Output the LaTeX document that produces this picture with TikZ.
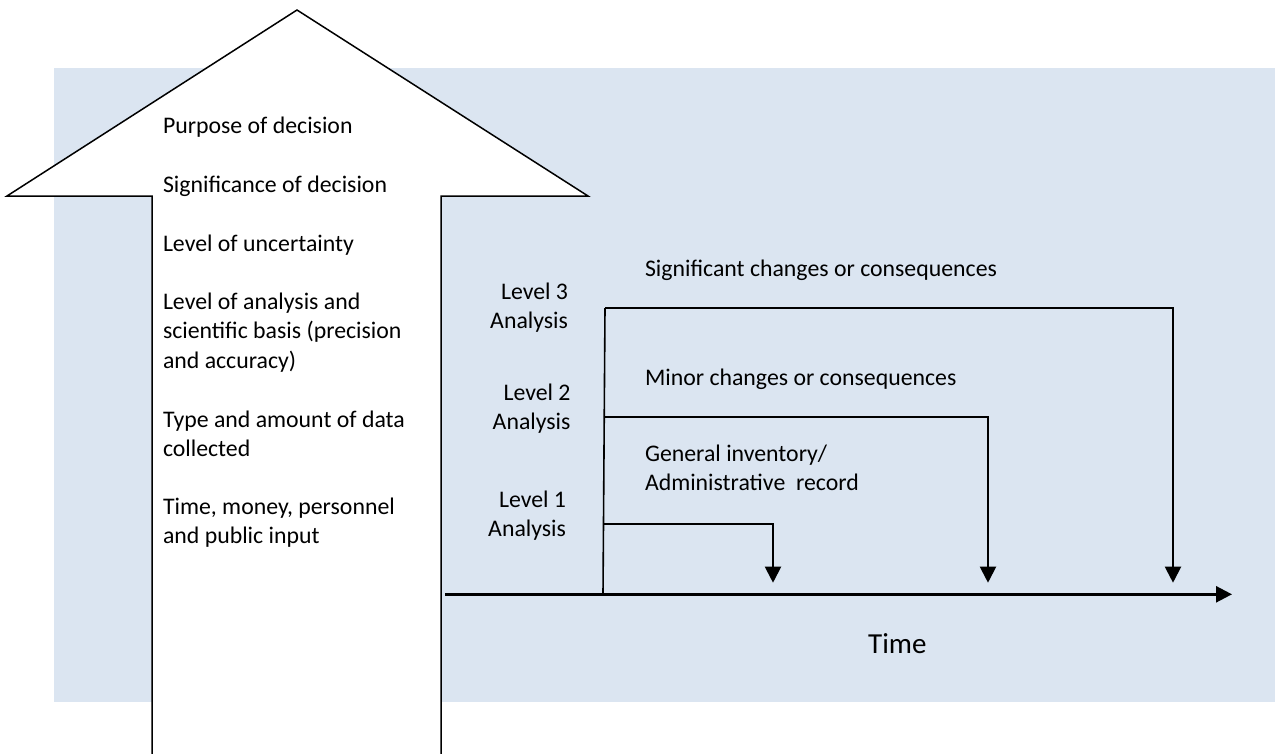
\documentclass[tikz,border=0pt]{standalone}
\usepackage{fontspec}
\setmainfont{Carlito}
\usetikzlibrary{arrows.meta}
\definecolor{bgblue}{RGB}{219,229,241}
\newcommand\mlinesl[1]{\begin{tabular}[t]{@{}l@{}}#1\end{tabular}}
\newcommand\mlinesr[1]{\begin{tabular}[t]{@{}r@{}}#1\end{tabular}}
\begin{document}
\begin{tikzpicture}[x=1pt,y=-1pt,
  txt/.style={inner sep=0pt,outer sep=0pt,font=\fontsize{23.8}{29.25}\selectfont},
  lt/.style={txt,anchor=base west},
  rt/.style={txt,anchor=base east},
  flow/.style={line width=2pt,-{Triangle[length=16pt,width=16pt]}},
  axisline/.style={line width=2.6pt,-{Triangle[length=16pt,width=16pt]}},
  stem/.style={line width=1.6pt},
  bigarrow/.style={draw=black,line width=1.5pt,line join=miter}]
\useasboundingbox (0,0) rectangle (1275,753);
\clip (0,0) rectangle (1275,753);
% background panel
\fill[bgblue] (54,68) rectangle (1275,702);
% big upward arrow
\fill[white] (297,10) -- (588,196) -- (441,196) -- (441,780) -- (152,780) -- (152,196) -- (7,196) -- cycle;
\draw[bigarrow] (441,780) -- (441,196) -- (588,196) -- (297,10) -- (7,196) -- (152,196) -- (152,780);
% left texts
\node[lt] (p1) at (163,133) {\mlinesl{Purpose of decision}};
\node[lt] (p2) at (163,192.5) {\mlinesl{Significance of decision}};
\node[lt] (p3) at (163,251) {\mlinesl{Level of uncertainty}};
\node[lt] (p4) at (163,309.5) {\mlinesl{Level of analysis and\\scientific basis (precision\\and accuracy)}};
\node[lt] (p5) at (163,427.5) {\mlinesl{Type and amount of data\\collected}};
\node[lt] (p6) at (163,514) {\mlinesl{Time, money, personnel\\and public input}};
% level labels
\node[rt] (lv3) at (568,299.3) {\mlinesr{Level 3\\Analysis}};
\node[rt] (lv2) at (570.5,400.5) {\mlinesr{Level 2\\Analysis}};
\node[rt] (lv1) at (566,507) {\mlinesr{Level 1\\Analysis}};
% consequence labels
\node[lt] (s3) at (645,276.7) {\mlinesl{Significant changes or consequences}};
\node[lt] (s2) at (645,385) {\mlinesl{Minor changes or consequences}};
\node[lt] (s1) at (645,461.7) {\mlinesl{General inventory/\\Administrative\ \ record}};
% time label
\node[inner sep=0pt,anchor=base west,font=\fontsize{29}{35}\selectfont] (time) at (868,653.3) {Time};
% coordinates
\coordinate (t0) at (445,594.3);
\coordinate (t1) at (1232,594.3);
\coordinate (v0) at (603,594.3);
\coordinate (v3) at (605,308);
\coordinate (a2) at (603.6,417);
\coordinate (a1) at (603,524);
\coordinate (c3) at (1173,308);
\coordinate (e3) at (1173,582.7);
\coordinate (c2) at (988,417);
\coordinate (e2) at (988,582.7);
\coordinate (c1) at (773,524);
\coordinate (e1) at (773,582.7);
% connectors
\draw[stem] (v0) -- (v3);
\draw[flow] (v3) -- (c3) -- (e3);
\draw[flow] (a2) -- (c2) -- (e2);
\draw[flow] (a1) -- (c1) -- (e1);
\draw[axisline] (t0) -- (t1);
\end{tikzpicture}
\end{document}
